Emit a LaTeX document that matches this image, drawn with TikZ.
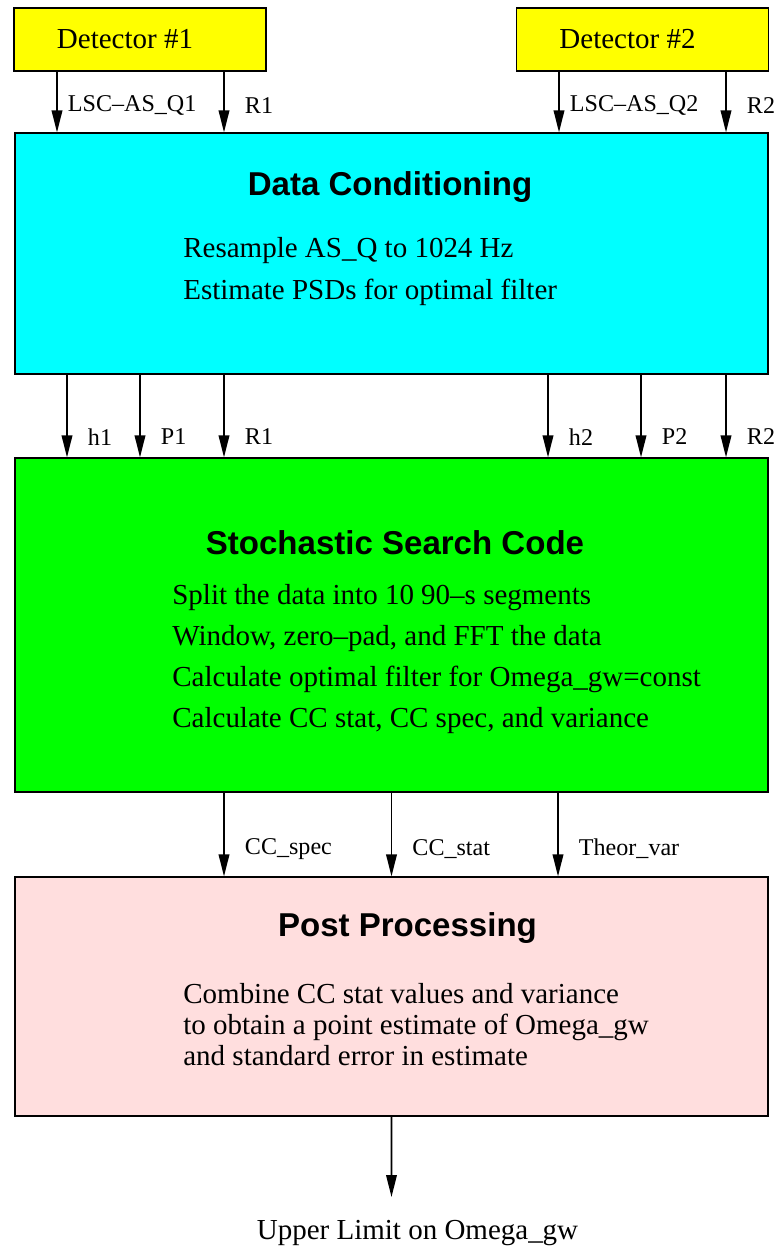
\documentclass[tikz,border=0pt]{standalone}
\usepackage{fontspec}
\setmainfont{Liberation Serif}
\setsansfont{Liberation Sans}
\usepackage{xcolor}
\usetikzlibrary{positioning,arrows.meta}

\definecolor{detyellow}{RGB}{255,255,0}
\definecolor{condcyan}{RGB}{0,255,255}
\definecolor{searchgreen}{RGB}{0,255,0}
\definecolor{postpink}{RGB}{255,222,222}

\begin{document}
\begin{tikzpicture}[
    det/.style={rectangle, draw, line width=0.9pt, fill=detyellow,
                minimum width=5.04cm, minimum height=1.26cm, inner sep=0pt,
                font=\fontsize{16.5}{20}\selectfont},
    stage/.style={rectangle, draw, line width=0.6pt, fill=#1,
                  minimum width=15.06cm, inner sep=0pt},
    head/.style={font=\sffamily\bfseries\fontsize{18.8}{22}\selectfont, inner sep=0pt},
    body/.style={anchor=west, align=left, inner sep=0pt,
                 font=\fontsize{16.5}{#1}\selectfont},
    arr/.style={-{Triangle[length=0.44cm,width=0.21cm]}, line width=1.1pt},
    lbl/.style={right, xshift=0.4cm, inner sep=0pt, font=\fontsize{13.7}{16}\selectfont}
  ]
  \useasboundingbox (0,0) rectangle (15.58,25.02);

  % Detectors
  \node[det] (det1) at (2.8, 24.23) {Detector \#1\hspace*{0.6cm}};
  \node[det] (det2) at (12.85, 24.23) {Detector \#2\hspace*{0.6cm}};

  % Data conditioning
  \node[stage=condcyan, minimum height=4.82cm] (dc) at (7.83, 19.95) {};
  \node[head] (dchead) at (7.8, 21.28) {Data Conditioning};
  \node[body=24.4pt] (dctext) at (3.66, 19.59)
    {Resample AS\_Q to 1024 Hz\\Estimate PSDs for optimal filter};

  % Stochastic search
  \node[stage=searchgreen, minimum height=6.68cm] (ssc) at (7.83, 12.52) {};
  \node[head] (sschead) at (7.9, 14.16) {Stochastic Search Code};
  \node[body=23.3pt] (ssctext) at (3.44, 11.84)
    {Split the data into 10 90--s segments\\
     Window, zero--pad, and FFT the data\\
     Calculate optimal filter for Omega\_gw=const\\
     Calculate CC stat, CC spec, and variance};

  % Post processing
  \node[stage=postpink, minimum height=4.78cm] (pp) at (7.83, 5.09) {};
  \node[head] (pphead) at (8.15, 6.46) {Post Processing};
  \node[body=17.6pt] (pptext) at (3.66, 4.52)
    {Combine CC stat values and variance\\
     to obtain a point estimate of Omega\_gw\\
     and standard error in estimate};

  \node[font=\fontsize{16.5}{20}\selectfont] (ul) at (8.35, 0.36) {Upper Limit on Omega\_gw};

  % Detector outputs
  \draw[arr] ([xshift=-1.66cm]det1.south) -- ([xshift=-6.69cm]dc.north) node[lbl, xshift=-0.2cm, pos=0.55] {LSC--AS\_Q1};
  \draw[arr] ([xshift=1.68cm]det1.south) -- ([xshift=-3.35cm]dc.north) node[lbl, pos=0.55] {R1};
  \draw[arr] ([xshift=-1.67cm]det2.south) -- ([xshift=3.35cm]dc.north) node[lbl, xshift=-0.2cm, pos=0.55] {LSC--AS\_Q2};
  \draw[arr] ([xshift=1.67cm]det2.south) -- ([xshift=6.69cm]dc.north) node[lbl, pos=0.55] {R2};

  % Conditioned data
  \foreach \dx/\txt in {-6.49/h1, -5.03/P1, -3.35/R1, 3.13/h2, 4.99/P2, 6.69/R2}
    \draw[arr] ([xshift=\dx cm]dc.south) -- ([xshift=\dx cm]ssc.north) node[lbl, pos=0.75] {\txt};

  % Search outputs
  \foreach \dx/\txt in {-3.35/CC\_spec, 0/CC\_stat, 3.33/Theor\_var}
    \draw[arr] ([xshift=\dx cm]ssc.south) -- ([xshift=\dx cm]pp.north) node[lbl, pos=0.67] {\txt};

  \draw[arr] (pp.south) -- ([xshift=-0.52cm, yshift=0.34cm]ul.north);

\end{tikzpicture}
\end{document}
